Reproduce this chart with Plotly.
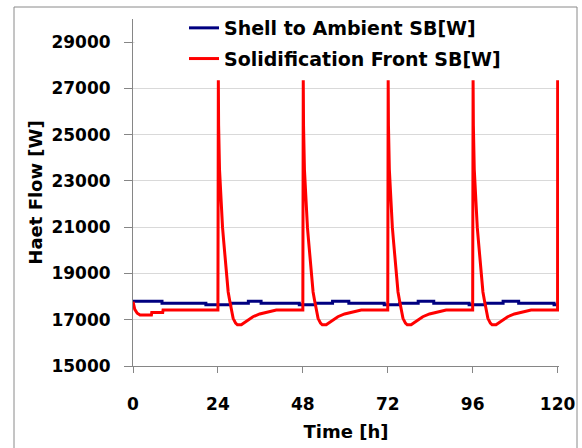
import plotly.graph_objects as go

# ---------------- data ----------------
x_ticks = [0, 24, 48, 72, 96, 120]
y_ticks = [15000, 17000, 19000, 21000, 23000, 25000, 27000, 29000]
y_tick_text = ["15000", "17000", "19000", "21000", "23000", "25000", "27000", "29000"]

# Shell to Ambient SB[W] : step levels (time [h], value [W])
blue_t = [0, 8.2, 20.6, 27.6, 32.6, 36.2, 47.0, 51.6, 56.4, 61.0, 71.0, 75.4,
          80.6, 85.0, 95.0, 99.6, 104.6, 109.0, 119.0, 120.0]
blue_v = [17800, 17710, 17650, 17710, 17800, 17710, 17650, 17710, 17800, 17710,
          17650, 17710, 17800, 17710, 17650, 17710, 17800, 17710, 17650, 17650]

# Solidification Front SB[W] : first day (time [h], value [W])
red_first_t = [0, 0.5, 1.2, 2.0, 5.2, 5.3, 8.4, 8.5]
red_first_v = [17780, 17450, 17280, 17200, 17200, 17310, 17310, 17420]

# Solidification Front SB[W] : one discharge cycle, hours after each spike
cycle_starts = [24, 48, 72, 96]
cycle_o = [0, 0.02, 0.12, 0.2, 0.45, 0.6, 0.75, 1.0, 1.3, 1.6, 2.0, 2.5, 2.9,
           3.3, 3.8, 4.3, 5.0, 5.5, 6.6, 8.0, 9.9, 11.8, 14.6, 16.5]
cycle_v = [17420, 27350, 27350, 25400, 23500, 23000, 22300, 21600, 21000, 20450,
           19700, 18800, 18200, 17850, 17400, 17060, 16850, 16780, 16780, 16920,
           17130, 17250, 17350, 17420]

# last spike at the end of the record
final_t = [120, 120.02]
final_v = [17420, 27350]

red_t = list(red_first_t)
red_v = list(red_first_v)
for s in cycle_starts:
    red_t += [s + o for o in cycle_o]
    red_v += cycle_v
red_t += final_t
red_v += final_v

# ---------------- layout constants ----------------
W, H = 582, 448
L, R, T, B = 133, 23, 19, 82
PW, PH = W - L - R, H - T - B
FONT = "DejaVu Sans"


def py(px):
    """pixel row -> paper y"""
    return (H - B - px) / PH


def pxx(px):
    """pixel column -> paper x"""
    return (px - L) / PW


fig = go.Figure()
fig.add_trace(go.Scatter(x=blue_t, y=blue_v, mode="lines", line_shape="hv",
                         name="Shell to Ambient SB[W]", legendgroup="a",
                         line=dict(color="#000080", width=3)))
fig.add_trace(go.Scatter(x=red_t, y=red_v, mode="lines",
                         name="Solidification Front SB[W]", legendgroup="b",
                         line=dict(color="#ff0000", width=3)))

fig.update_layout(
    width=W, height=H,
    margin=dict(l=L, r=R, t=T, b=B, autoexpand=False),
    paper_bgcolor="white", plot_bgcolor="white",
    font=dict(family=FONT, color="black", size=17, weight="bold"),
    showlegend=True,
    legend=dict(x=pxx(184), xanchor="left", y=py(9), yanchor="top",
                bgcolor="rgba(0,0,0,0)", borderwidth=0, tracegroupgap=3,
                font=dict(family=FONT, size=19, color="black", weight="bold")),
    xaxis=dict(range=[0, 120.4], tickvals=x_ticks, showgrid=False, zeroline=False,
               showline=True, linecolor="#868686", linewidth=1,
               ticks="outside", ticklen=6, tickcolor="#868686",
               ticklabelstandoff=17,
               tickfont=dict(family=FONT, size=17, color="black", weight="bold"),
               title=dict(text="Time [h]", standoff=11,
                          font=dict(family=FONT, size=18, color="black", weight="bold"))),
    yaxis=dict(range=[15000, 30000], tickvals=y_ticks, ticktext=y_tick_text,
               showgrid=True, gridcolor="#d9d9d9", gridwidth=1, zeroline=False,
               showline=True, linecolor="#868686", linewidth=1,
               ticks="outside", ticklen=8, tickcolor="#868686",
               ticklabelstandoff=10,
               tickfont=dict(family=FONT, size=17, color="black", weight="bold"),
               title=dict(text="Haet Flow [W]", standoff=4,
                          font=dict(family=FONT, size=18, color="black", weight="bold"))),
    shapes=[
        # white area behind the legend (hides the top grid line like the original)
        dict(type="rect", xref="paper", yref="paper", layer="above",
             x0=pxx(134.5), x1=1.0, y0=py(72), y1=py(10),
             line=dict(width=0), fillcolor="white"),
        # chart outer border
        dict(type="rect", xref="paper", yref="paper", layer="above",
             x0=pxx(14), x1=pxx(577), y0=py(470), y1=py(7),
             line=dict(color="#8a8a8a", width=1), fillcolor="rgba(0,0,0,0)"),
    ],
)

fig.write_html("out.html")
